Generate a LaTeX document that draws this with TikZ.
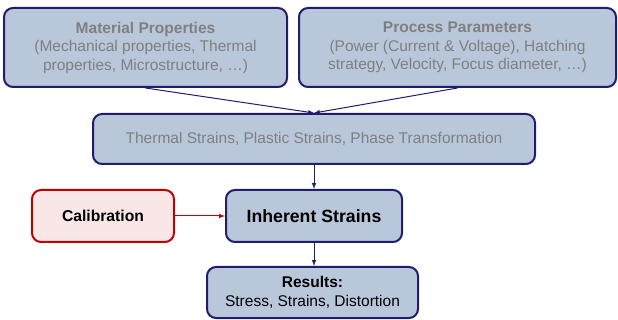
\documentclass[tikz,border=0pt]{standalone}
\usepackage{fontspec}
\setmainfont{Liberation Sans}
\definecolor{boxfill}{HTML}{B9C7DB}
\definecolor{boxline}{HTML}{201C6E}
\definecolor{calfill}{HTML}{F9E7E8}
\definecolor{calline}{HTML}{C00000}
\definecolor{greytext}{HTML}{7F7F7F}
\tikzset{
  block/.style = {draw=boxline,fill=boxfill,line width=2pt,rounded corners=9pt,
    align=center,inner sep=0pt,font=\fontsize{15.5}{18.5}\selectfont},
  inputbox/.style = {block,text=greytext},
  calbox/.style = {block,draw=calline,fill=calfill},
  link/.style = {->,line width=1pt}
}
\tikzset{>=latex}

\begin{document}
\begin{tikzpicture}[x=1pt,y=-1pt]
  \useasboundingbox (0,0) rectangle (618,320);
  \node[inputbox,minimum width=283pt,minimum height=79pt] (mat) at (145.5,47.5)
    {\textbf{Material Properties}\\(Mechanical properties, Thermal\\properties, Microstructure, \dots)};
  \node[inputbox,minimum width=317pt,minimum height=79pt] (proc) at (457.5,47.5)
    {\textbf{Process Parameters}\\(Power (Current \& Voltage), Hatching\\strategy, Velocity, Focus diameter, \dots)};
  \node[inputbox,minimum width=442pt,minimum height=50pt] (strains) at (314,139)
    {Thermal Strains, Plastic Strains, Phase Transformation};
  \node[block,minimum width=176pt,minimum height=52pt,font=\fontsize{17.7}{20}\selectfont\bfseries] (inh) at (314,216)
    {Inherent Strains};
  \node[calbox,minimum width=142pt,minimum height=52pt,font=\fontsize{15.7}{18}\selectfont\bfseries] (cal) at (103,216)
    {Calibration};
  \node[block,minimum width=211pt,minimum height=51pt] (res) at (312.5,292.5)
    {\textbf{Results:}\\Stress, Strains, Distortion};
  % connectors
  \draw[link,boxline] (mat.south) -- (strains.north);
  \draw[link,boxline] (proc.south) -- (strains.north);
  \draw[link,boxline] (strains) -- (inh);
  \draw[link,calline] (cal) -- (inh);
  \draw[link,boxline] (inh.south) -- (inh.south |- res.north);
\end{tikzpicture}
\end{document}
